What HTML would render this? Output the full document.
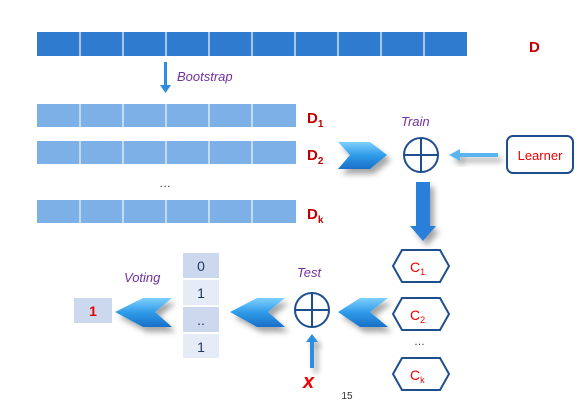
<!DOCTYPE html>
<html><head><meta charset="utf-8"><style>
body{margin:0;background:#fff;width:587px;height:406px;overflow:hidden;font-family:"Liberation Sans",sans-serif}
</style></head><body>
<svg width="587" height="406" viewBox="0 0 587 406" font-family="Liberation Sans, sans-serif">
<defs>
<linearGradient id="ag" x1="0" y1="0" x2="0" y2="1"><stop offset="0" stop-color="#7fd0ff"/><stop offset="0.5" stop-color="#2f9be8"/><stop offset="1" stop-color="#1a6fc8"/></linearGradient>
<filter id="sh" x="-30%" y="-30%" width="180%" height="180%"><feDropShadow dx="4" dy="5" stdDeviation="3" flood-color="#000" flood-opacity="0.35"/></filter>
</defs>
<g>
<rect x="37" y="32" width="430" height="24" fill="#2f7bcf"/>
<g stroke="#cfe0f5" stroke-width="1.5">
<line x1="80" y1="32" x2="80" y2="56"/><line x1="123" y1="32" x2="123" y2="56"/><line x1="166" y1="32" x2="166" y2="56"/><line x1="209" y1="32" x2="209" y2="56"/><line x1="252" y1="32" x2="252" y2="56"/><line x1="295" y1="32" x2="295" y2="56"/><line x1="338" y1="32" x2="338" y2="56"/><line x1="381" y1="32" x2="381" y2="56"/><line x1="424" y1="32" x2="424" y2="56"/>
</g></g>
<text x="529" y="52" font-size="15" font-weight="bold" fill="#c00000">D</text>
<g><rect x="164" y="62" width="3" height="24" fill="#2f8de0"/><polygon points="160,85 171,85 165.5,93" fill="#2f8de0"/></g>
<text x="177" y="81" font-size="13" font-style="italic" fill="#7030a0">Bootstrap</text>
<g>
<rect x="37" y="104" width="259" height="23" fill="#7eb0e8"/>
<rect x="37" y="141" width="259" height="23" fill="#7eb0e8"/>
<rect x="37" y="200" width="259" height="23" fill="#7eb0e8"/>
<g stroke="#dbe8f7" stroke-width="1.5">
<line x1="80" y1="104" x2="80" y2="223"/><line x1="123" y1="104" x2="123" y2="223"/><line x1="166" y1="104" x2="166" y2="223"/><line x1="209" y1="104" x2="209" y2="223"/><line x1="252" y1="104" x2="252" y2="223"/>
</g>
<rect x="37" y="127" width="259" height="14" fill="#fff"/><rect x="37" y="164" width="259" height="36" fill="#fff"/>
</g>
<text x="159" y="187" font-size="12" fill="#333">…</text>
<g font-size="15" font-weight="bold" fill="#c00000">
<text x="307" y="123">D<tspan font-size="10" dy="4">1</tspan></text>
<text x="307" y="160">D<tspan font-size="10" dy="4">2</tspan></text>
<text x="307" y="219">D<tspan font-size="10" dy="4">k</tspan></text>
</g>
<text x="401" y="126" font-size="13" font-style="italic" fill="#7030a0">Train</text>
<polygon points="338,142 370,142 387,155 370,169 338,169 350,155" fill="url(#ag)" filter="url(#sh)"/>
<g stroke="#1f4e8c" stroke-width="2" fill="#fff"><circle cx="421" cy="155" r="17"/><line x1="404" y1="155" x2="438" y2="155"/><line x1="421" y1="138" x2="421" y2="172"/></g>
<g filter="url(#sh)"><rect x="458" y="153" width="40" height="4" fill="#5ab4f0"/><polygon points="449,155 460,149 460,161" fill="#5ab4f0"/></g>
<g><rect x="507" y="136" width="66" height="37" rx="6" fill="#fff" stroke="#1f4e8c" stroke-width="2"/><text x="540" y="160" font-size="13" fill="#e00" text-anchor="middle">Learner</text></g>
<g filter="url(#sh)"><rect x="416" y="182" width="14" height="45" fill="#2a7fd8"/><polygon points="410,226 436,226 423,241" fill="#2a7fd8"/></g>
<g stroke="#1f4e8c" stroke-width="2" fill="#fff" font-size="14">
<g><polygon points="393,266 402,250 440,250 449,266 440,282 402,282"/><text x="410" y="272" fill="#e00" stroke="none">C<tspan font-size="9" dy="3">1</tspan></text></g>
<g><polygon points="393,314 402,298 440,298 449,314 440,330 402,330"/><text x="410" y="320" fill="#e00" stroke="none">C<tspan font-size="9" dy="3">2</tspan></text></g>
<g><polygon points="393,374 402,358 440,358 449,374 440,390 402,390"/><text x="410" y="380" fill="#e00" stroke="none">C<tspan font-size="9" dy="3">k</tspan></text></g>
</g>
<text x="414" y="345" font-size="11" fill="#333">…</text>
<text x="297" y="277" font-size="13" font-style="italic" fill="#7030a0">Test</text>
<polygon points="388,298 360,298 338,312 360,327 388,327 370,312" fill="url(#ag)" filter="url(#sh)"/>
<g stroke="#1f4e8c" stroke-width="2" fill="#fff"><circle cx="312" cy="310" r="17"/><line x1="295" y1="310" x2="329" y2="310"/><line x1="312" y1="293" x2="312" y2="327"/></g>
<g filter="url(#sh)"><rect x="310" y="340" width="4" height="28" fill="#2f8de0"/><polygon points="306,342 318,342 312,334" fill="#2f8de0"/></g>
<text x="303" y="388" font-size="20" font-weight="bold" font-style="italic" fill="#e00">x</text>
<polygon points="285,298 257,298 230,312 257,327 285,327 268,312" fill="url(#ag)" filter="url(#sh)"/>
<g font-size="14" fill="#1f3a60" text-anchor="middle">
<rect x="183" y="253" width="36" height="25" fill="#ccd8ee"/><text x="201" y="271">0</text>
<rect x="183" y="280" width="36" height="25" fill="#e6ecf7"/><text x="201" y="298">1</text>
<rect x="183" y="307" width="36" height="25" fill="#ccd8ee"/><text x="201" y="325">..</text>
<rect x="183" y="334" width="36" height="24" fill="#e6ecf7"/><text x="201" y="352">1</text>
</g>
<text x="124" y="282" font-size="13" font-style="italic" fill="#7030a0">Voting</text>
<polygon points="172,298 143,298 115,312 143,327 172,327 155,312" fill="url(#ag)" filter="url(#sh)"/>
<g><rect x="74" y="298" width="38" height="25" fill="#ccd8ee"/><text x="93" y="316" font-size="14" font-weight="bold" fill="#e00" text-anchor="middle">1</text></g>
<text x="347" y="399" font-size="10" fill="#333" text-anchor="middle">15</text>
</svg>
</body></html>
